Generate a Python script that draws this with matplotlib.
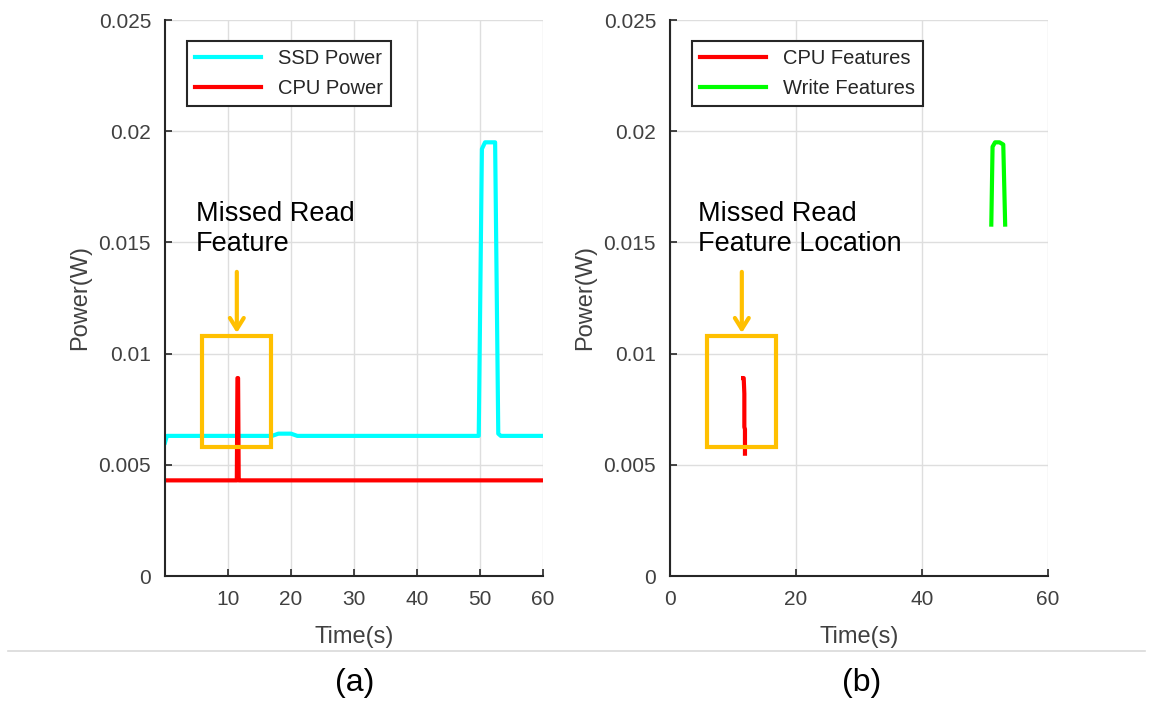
import matplotlib
matplotlib.use('Agg')
import matplotlib.pyplot as plt
from matplotlib.patches import Rectangle
from matplotlib.lines import Line2D

plt.rcParams['font.family'] = ['Liberation Sans', 'DejaVu Sans']

# ----------------------------------- data ----------------------------------- #

ssd_t = [0.0, 0.3, 2, 6, 10, 14, 17, 18, 20, 21, 25, 30, 35, 40, 45, 48, 49.8,
         50.3, 50.8, 51.5, 52.4, 52.9, 53.3, 56, 60]
ssd_p = [0.0060, 0.0063, 0.0063, 0.0063, 0.0063, 0.0063, 0.0063, 0.0064,
         0.0064, 0.0063, 0.0063, 0.0063, 0.0063, 0.0063, 0.0063, 0.0063,
         0.0063, 0.0192, 0.0195, 0.0195, 0.0195, 0.0064, 0.0063, 0.0063, 0.0063]

cpu_t = [0.0, 11.4, 11.5, 11.6, 11.7, 11.8, 60]
cpu_p = [0.0043, 0.0043, 0.0089, 0.0089, 0.0043, 0.0043, 0.0043]

cpu_feat_t = [11.6, 11.7, 11.8, 11.8, 11.9, 11.9]
cpu_feat_p = [0.0089, 0.0089, 0.0082, 0.0067, 0.0066, 0.0055]

write_feat_t = [51.0, 51.2, 51.6, 52.3, 52.9, 53.2]
write_feat_p = [0.0158, 0.0193, 0.0195, 0.0195, 0.0194, 0.0158]

yticks = [0, 0.005, 0.01, 0.015, 0.02, 0.025]
ytick_labels = ['0', '0.005', '0.01', '0.015', '0.02', '0.025']

# box around the missed feature (data coords)
box_x, box_y, box_w, box_h = 5.8, 0.0058, 11.1, 0.0050

ORANGE = '#FFC000'
AXCOL = '#262626'

fig = plt.figure(figsize=(11.53, 7.02), dpi=100)
ax1 = fig.add_axes([165 / 1153, 126 / 702, 378 / 1153, 556 / 702])
ax2 = fig.add_axes([670 / 1153, 126 / 702, 378 / 1153, 556 / 702])


def style(ax, xticks):
    ax.set_xlim(0, 60)
    ax.set_ylim(0, 0.025)
    ax.set_xticks(xticks)
    ax.set_xticklabels([str(v) for v in xticks])
    ax.set_yticks(yticks)
    ax.set_yticklabels(ytick_labels)
    ax.grid(True, color='#dedede', lw=1.0)
    ax.set_axisbelow(True)
    for s in ['top', 'right']:
        ax.spines[s].set_visible(False)
    for s in ['left', 'bottom']:
        ax.spines[s].set_color(AXCOL)
        ax.spines[s].set_linewidth(1.5)
    ax.tick_params(direction='in', length=5, width=1.2, color=AXCOL,
                   labelcolor='#404040', labelsize=15, pad=10)
    ax.set_xlabel('Time(s)', fontsize=17, color='#404040', labelpad=12)
    ax.set_ylabel('Power(W)', fontsize=17, color='#404040', labelpad=5)


# ------------------------------- (a) power ---------------------------------- #

ax1.plot(ssd_t, ssd_p, color='#00FFFF', lw=3, label='SSD Power')
ax1.plot(cpu_t, cpu_p, color='#FF0000', lw=3, label='CPU Power')
style(ax1, [10, 20, 30, 40, 50, 60])

# ------------------------------ (b) features -------------------------------- #

ax2.plot(cpu_feat_t, cpu_feat_p, color='#FF0000', lw=3, label='CPU Features')
ax2.plot(write_feat_t, write_feat_p, color='#00FF00', lw=3, label='Write Features')
style(ax2, [0, 20, 40, 60])

# ---------------------------- annotations ----------------------------------- #

for ax, txt, tx in [(ax1, 'Missed Read\nFeature', 4.9),
                    (ax2, 'Missed Read\nFeature Location', 4.4)]:
    leg = ax.legend(loc='upper left', bbox_to_anchor=(0.058, 0.962),
                    borderaxespad=0, fontsize=14.5, handlelength=3.3,
                    labelspacing=0.55, fancybox=False, framealpha=1,
                    edgecolor=AXCOL)
    leg.get_frame().set_linewidth(1.5)
    for t in leg.get_texts():
        t.set_color('#262626')
    ax.add_patch(Rectangle((box_x, box_y), box_w, box_h, fill=False,
                           edgecolor=ORANGE, lw=3, zorder=5))
    ax.annotate('', xy=(11.4, box_y + box_h), xytext=(11.4, 0.0138),
                arrowprops=dict(arrowstyle='->,head_width=0.5,head_length=0.8',
                                color=ORANGE, lw=3), zorder=5)
    ax.text(tx, 0.01685, txt, fontsize=19.5, va='top', ha='left', color='black')

fig.text(355 / 1153, 1 - 683 / 702, '(a)', fontsize=23, ha='center', va='center')
fig.text(862 / 1153, 1 - 683 / 702, '(b)', fontsize=23, ha='center', va='center')

fig.add_artist(Line2D([8 / 1153, 1145 / 1153], [1 - 651 / 702, 1 - 651 / 702],
                      color='#d9d9d9', lw=1.2))

fig.savefig('out.png', dpi=100)
